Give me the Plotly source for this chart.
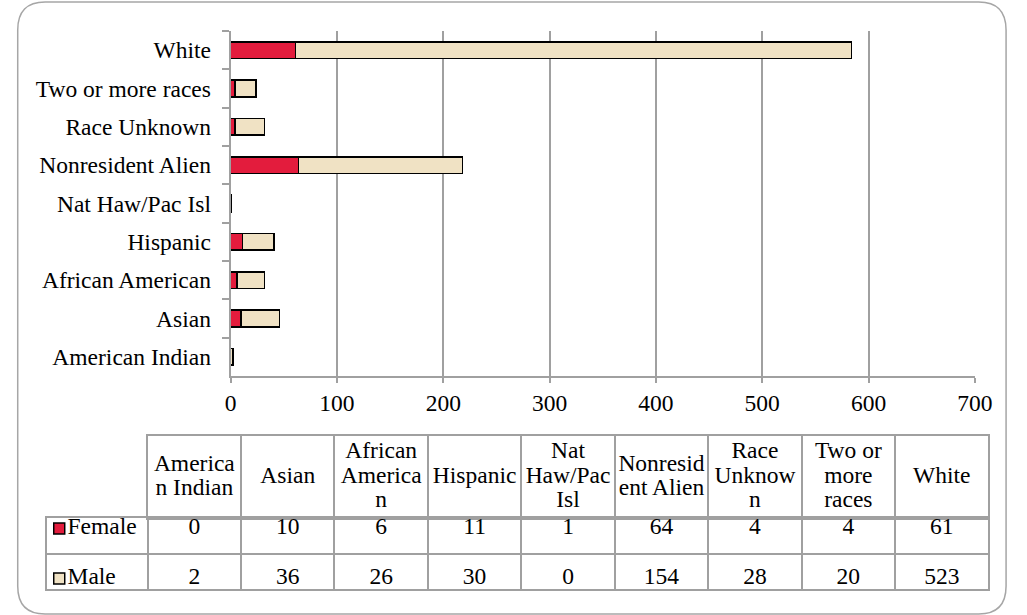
import plotly.graph_objects as go

# ---------------- data ----------------
categories = ["American Indian", "Asian", "African American", "Hispanic",
              "Nat Haw/Pac Isl", "Nonresident Alien", "Race Unknown",
              "Two or more races", "White"]
female = [0, 10, 6, 11, 1, 64, 4, 4, 61]
male = [2, 36, 26, 30, 0, 154, 28, 20, 523]
table_headers = ["America<br>n Indian", "Asian", "African<br>America<br>n",
                 "Hispanic", "Nat<br>Haw/Pac<br>Isl", "Nonresid<br>ent Alien",
                 "Race<br>Unknow<br>n", "Two or<br>more<br>races", "White"]
series_names = ["Female", "Male"]
x_ticks = [0, 100, 200, 300, 400, 500, 600, 700]

# ---------------- styles ----------------
W, H = 1027, 615
RED = "#E31C3D"
CREAM = "#F0E2C4"
GRID = "#A0A0A0"
FONT = "Liberation Serif, Times New Roman, serif"
FS = 23.5
LINE_PX = 24.5          # line spacing inside header cells
HEAD_TOP, HEAD_BOT = 436, 518
BODY_BOT = 589


def px_x(p):
    return p / W


def px_y(p):
    return 1 - p / H


fig = go.Figure()

# main stacked bars
fig.add_trace(go.Bar(y=categories, x=female, orientation="h", name=series_names[0],
                     marker=dict(color=RED, line=dict(color="black", width=1.6)),
                     showlegend=False, hoverinfo="skip"))
fig.add_trace(go.Bar(y=categories, x=male, orientation="h", name=series_names[1],
                     marker=dict(color=CREAM, line=dict(color="black", width=1.6)),
                     showlegend=False, hoverinfo="skip"))

# ---------------- data table ----------------
col_w = (1006 - 145) / 9.0
ncols = len(categories)
head_h = HEAD_BOT - HEAD_TOP

# header row: one text item per wrapped line so the line spacing can be set
hx, hy, ht = [], [], []
for i, lab in enumerate(table_headers):
    lines = lab.split("<br>")
    n = len(lines)
    for j, ln in enumerate(lines):
        off = (j - (n - 1) / 2.0) * LINE_PX
        hx.append(i + 0.5)
        hy.append(0.5 - off / head_h)
        ht.append(ln)
fig.add_trace(go.Scatter(x=hx, y=hy, text=ht, mode="text",
                         textfont=dict(family=FONT, size=FS, color="black"),
                         xaxis="x2", yaxis="y2", showlegend=False, hoverinfo="skip"))
# body rows
fig.add_trace(go.Scatter(x=[i + 0.5 for i in range(ncols)], y=[series_names[0]] * ncols,
                         text=[str(v) for v in female], mode="text",
                         textfont=dict(family=FONT, size=FS, color="black"),
                         xaxis="x3", yaxis="y3", showlegend=False, hoverinfo="skip"))
fig.add_trace(go.Scatter(x=[i + 0.5 for i in range(ncols)], y=[series_names[1]] * ncols,
                         text=[str(v) for v in male], mode="text",
                         textfont=dict(family=FONT, size=FS, color="black"),
                         xaxis="x3", yaxis="y3", showlegend=False, hoverinfo="skip"))
# legend keys in the first column
swatch_x = (54.5 - 145) / col_w
fig.add_trace(go.Scatter(x=[swatch_x, swatch_x], y=series_names,
                         mode="markers",
                         marker=dict(symbol="square", size=11, color=[RED, CREAM],
                                     line=dict(color="black", width=1.5)),
                         xaxis="x3", yaxis="y3", showlegend=False, hoverinfo="skip"))
label_x = (63 - 145) / col_w
fig.add_trace(go.Scatter(x=[label_x, label_x], y=series_names, text=series_names,
                         mode="text", textposition="middle right",
                         textfont=dict(family=FONT, size=FS, color="black"),
                         xaxis="x3", yaxis="y3", showlegend=False, hoverinfo="skip"))

# rounded outer frame
x0, x1, y0, y1, r = 12, 1024, 2, 614, 28
pts = [("M", x0 + r, y0), ("L", x1 - r, y0), ("Q", x1, y0, x1, y0 + r),
       ("L", x1, y1 - r), ("Q", x1, y1, x1 - r, y1), ("L", x0 + r, y1),
       ("Q", x0, y1, x0, y1 - r), ("L", x0, y0 + r), ("Q", x0, y0, x0 + r, y0)]
path = ""
for p in pts:
    coords = p[1:]
    seg = [f"{px_x(coords[k]):.5f},{px_y(coords[k + 1]):.5f}" for k in range(0, len(coords), 2)]
    path += p[0] + " " + " ".join(seg) + " "
path += "Z"

fig.update_layout(
    autosize=True,
    margin=dict(l=0, r=0, t=0, b=0),
    paper_bgcolor="white", plot_bgcolor="white",
    barmode="stack", bargap=0.565,
    font=dict(family=FONT, size=FS, color="black"),
    shapes=[dict(type="path", path=path, xref="paper", yref="paper",
                 line=dict(color="#A6A6A6", width=1.5), layer="below")],
    xaxis=dict(domain=[px_x(230), px_x(992)], range=[0, 700], tickvals=x_ticks,
               showgrid=True, gridcolor=GRID, gridwidth=1.5, zeroline=False,
               showline=True, linecolor=GRID, linewidth=2,
               ticks="outside", ticklen=5, tickcolor=GRID, tickwidth=1.5,
               tickfont=dict(family=FONT, size=FS), anchor="y", fixedrange=True),
    yaxis=dict(domain=[px_y(376), px_y(31)], type="category", categoryarray=categories,
               tickson="boundaries", ticks="outside", ticklen=7, tickcolor=GRID,
               tickwidth=1.5, showline=True, linecolor=GRID, linewidth=2,
               showgrid=False, zeroline=False, ticklabelstandoff=13,
               tickfont=dict(family=FONT, size=FS), anchor="x", fixedrange=True),
    xaxis2=dict(domain=[px_x(145), px_x(1006)], range=[0, ncols],
                tickvals=list(range(ncols + 1)), showgrid=True, gridcolor=GRID,
                gridwidth=1.5, showticklabels=False, ticks="", zeroline=False,
                showline=True, mirror=True, linecolor=GRID, linewidth=1.5,
                anchor="y2", fixedrange=True),
    yaxis2=dict(domain=[px_y(HEAD_BOT), px_y(HEAD_TOP)], range=[0, 1], showgrid=False,
                showticklabels=False, ticks="", zeroline=False,
                showline=True, mirror=True, linecolor=GRID, linewidth=1.5,
                anchor="x2", fixedrange=True),
    xaxis3=dict(domain=[px_x(42), px_x(1006)], range=[(42 - 145) / col_w, ncols],
                tickvals=list(range(ncols + 1)), showgrid=True, gridcolor=GRID,
                gridwidth=1.5, showticklabels=False, ticks="", zeroline=False,
                showline=True, mirror=True, linecolor=GRID, linewidth=1.5,
                anchor="y3", fixedrange=True),
    yaxis3=dict(domain=[px_y(BODY_BOT), px_y(HEAD_BOT)], type="category",
                categoryarray=[series_names[1], series_names[0]],
                tickson="boundaries", showgrid=True, gridcolor=GRID, gridwidth=1.5,
                showticklabels=False, ticks="", zeroline=False,
                showline=True, mirror=True, linecolor=GRID, linewidth=1.5,
                anchor="x3", fixedrange=True),
)

post = (
    "var de=document.documentElement, b=document.body;"
    "de.style.margin='0'; de.style.padding='0'; de.style.height='100%'; de.style.overflow='hidden';"
    "b.style.margin='0'; b.style.padding='0'; b.style.height='100%'; b.style.overflow='hidden';"
    "var gd=document.getElementById('{plot_id}');"
    "gd.parentElement.style.height='100%'; gd.parentElement.style.width='100%';"
    "gd.style.width='100vw'; gd.style.height='100vh';"
    "Plotly.Plots.resize(gd);"
)
fig.write_html("out.html", config={"displayModeBar": False, "responsive": True},
               default_width="100vw", default_height="100vh", post_script=post)
